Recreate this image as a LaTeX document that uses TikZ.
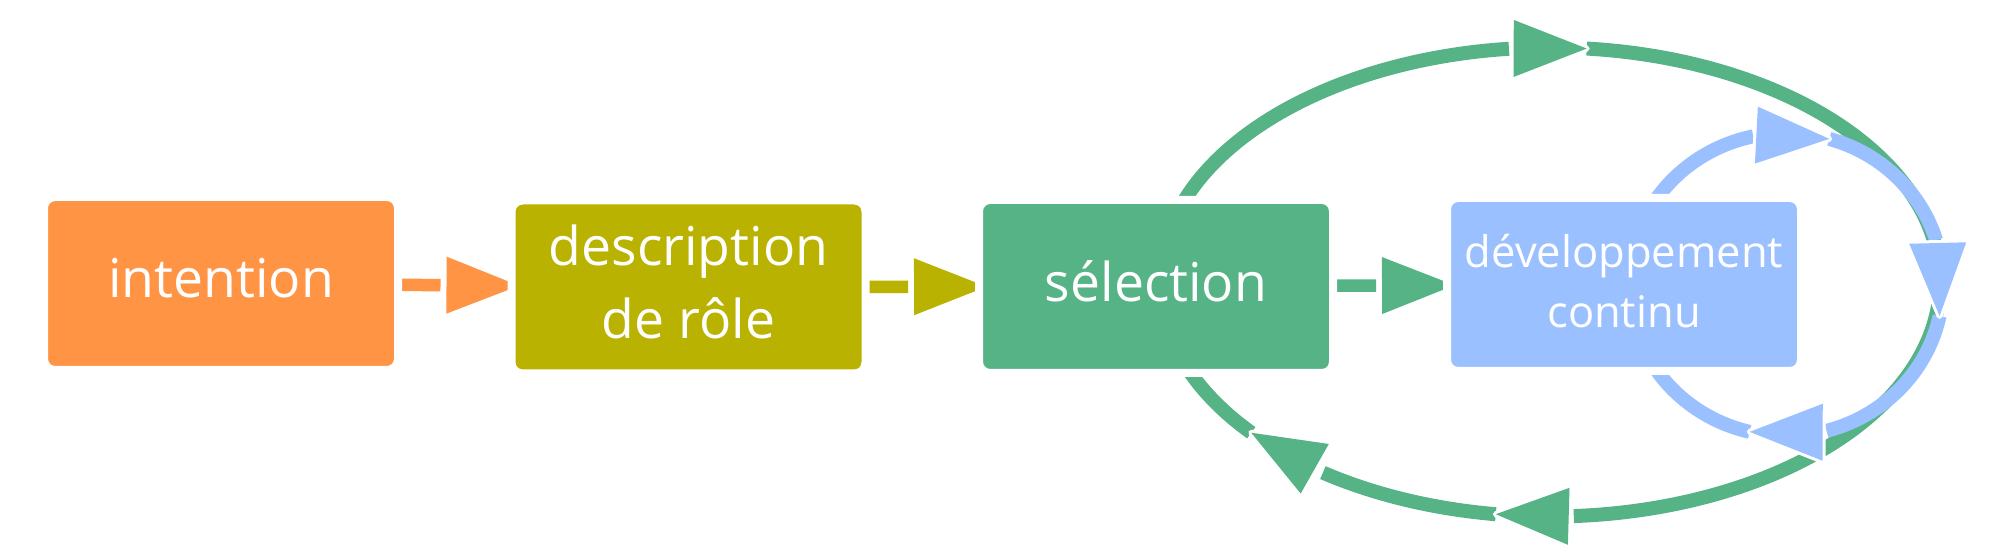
\documentclass[tikz,border=0pt]{standalone}
\usepackage{fontspec}
\setmainfont{Open Sans}
\usetikzlibrary{arrows.meta,bending,backgrounds}
\definecolor{cor}{RGB}{255,148,68}
\definecolor{col}{RGB}{186,178,0}
\definecolor{cgr}{RGB}{86,179,134}
\definecolor{cbl}{RGB}{155,192,255}
\newdimen\arrgapdim
\pgfdeclarearrow{
  name=HTri,
  parameters={\the\pgfarrowlength,\the\pgfarrowwidth,\the\pgfarrowinset},
  setup code={
    \pgfarrowssettipend{0pt}
    \pgfarrowssetbackend{-\pgfarrowlength}
    \arrgapdim=-\pgfarrowlength
    \advance\arrgapdim by -\pgfarrowinset
    \pgfarrowssetlineend{\arrgapdim}
    \pgfarrowssavethe\pgfarrowlength
    \pgfarrowssavethe\pgfarrowwidth
  },
  drawing code={
    \pgfsetroundjoin
    \pgfsetlinewidth{3pt}
    \pgfpathmoveto{\pgfqpoint{0pt}{0pt}}
    \pgfpathlineto{\pgfqpoint{-\pgfarrowlength}{.5\pgfarrowwidth}}
    \pgfpathlineto{\pgfqpoint{-\pgfarrowlength}{-.5\pgfarrowwidth}}
    \pgfpathclose
    \pgfsetstrokecolor{white}
    \pgfusepathqstroke
    \pgfpathmoveto{\pgfqpoint{0pt}{0pt}}
    \pgfpathlineto{\pgfqpoint{-\pgfarrowlength}{.5\pgfarrowwidth}}
    \pgfpathlineto{\pgfqpoint{-\pgfarrowlength}{-.5\pgfarrowwidth}}
    \pgfpathclose
    \pgfusepathqfill
  },
  defaults={length=36.5pt,width=28.5pt,inset=3pt}
}
\newcommand\strutA{\rule[-0.2em]{0pt}{0.94em}}
\newcommand\strutB{\rule[-0.2em]{0pt}{1.0em}}
\begin{document}
\begin{tikzpicture}[x=0.5pt,y=0.5pt,
  box/.style={rectangle, rounded corners=5.5pt, minimum width=177pt,
    minimum height=86.5pt, inner sep=0pt, outer sep=0pt, draw=white,
    line width=4pt, text=white, align=center},
  bigtext/.style={font=\fontsize{26.75pt}{36.4pt}\selectfont},
  smalltext/.style={font=\fontsize{21.75pt}{29.6pt}\selectfont},
  sarr/.style={line width=6.25pt, -{HTri[length=36.25pt,width=28.5pt,inset=3pt]}, shorten >=-3.75pt},
  garc/.style={color=cgr, line width=7pt},
  barc/.style={color=cbl, line width=7pt},
  chead/.style={-{HTri[length=36.5pt,width=28.5pt,inset=3pt,flex]}},
  ge/.style={x radius=195pt, y radius=117.25pt},
  be/.style={x radius=78.5pt, y radius=75.75pt}]
\useasboundingbox (0,0) rectangle (2000,-560);

\node[box, fill=cor, bigtext] (int) at (221,-283.5) {\strutA intention};
\node[box, fill=col, bigtext] (desc) at (688.5,-287) {\strutA description\\\strutA de rôle};
\node[box, fill=cgr, bigtext] (sel) at (1156,-286.5) {\strutA sélection};
\node[box, fill=cbl, smalltext] (dev) at (1624,-284.5) {\strutB développement\\\strutB continu};

\coordinate (gc) at (1550,-282);
\coordinate (bc) at (1786,-284.5);
\path (gc) ++(170:195pt and 117.25pt) coordinate (g0);
\path (gc) ++(84.6:195pt and 117.25pt) coordinate (h1);
\path (gc) ++(-98:195pt and 117.25pt) coordinate (h5);
\path (gc) ++(-140:195pt and 117.25pt) coordinate (h6);
\path (bc) ++(160:78.5pt and 75.75pt) coordinate (b0);
\path (bc) ++(74:78.5pt and 75.75pt) coordinate (h2);
\path (bc) ++(-12:78.5pt and 75.75pt) coordinate (h3);
\path (bc) ++(-103.4:78.5pt and 75.75pt) coordinate (h4);

\begin{scope}[on background layer]
  \draw[sarr, color=cor] (int) -- (desc);
  \draw[sarr, color=col] (desc) -- (sel);
  \draw[sarr, color=cgr] (sel) -- (dev);
  % green loop
  \draw[garc] (h6) arc[ge, start angle=-140, end angle=-165];
  \draw[garc, chead] (h5) arc[ge, start angle=-98, end angle=-140];
  \draw[garc, chead] (h1) arc[ge, start angle=84.6, end angle=-20]
                          arc[ge, start angle=-20, end angle=-98];
  \draw[garc, chead] (g0) arc[ge, start angle=170, end angle=84.6];
  % blue loop
  \draw[barc] (h4) arc[be, start angle=-103.4, end angle=-160];
  \draw[barc, chead] (h3) arc[be, start angle=-12, end angle=-40]
                          arc[be, start angle=-40, end angle=-103.4];
  \draw[barc, chead] (h2) arc[be, start angle=74, end angle=-12];
  \draw[barc, chead] (b0) arc[be, start angle=160, end angle=74];
\end{scope}
\end{tikzpicture}
\end{document}
